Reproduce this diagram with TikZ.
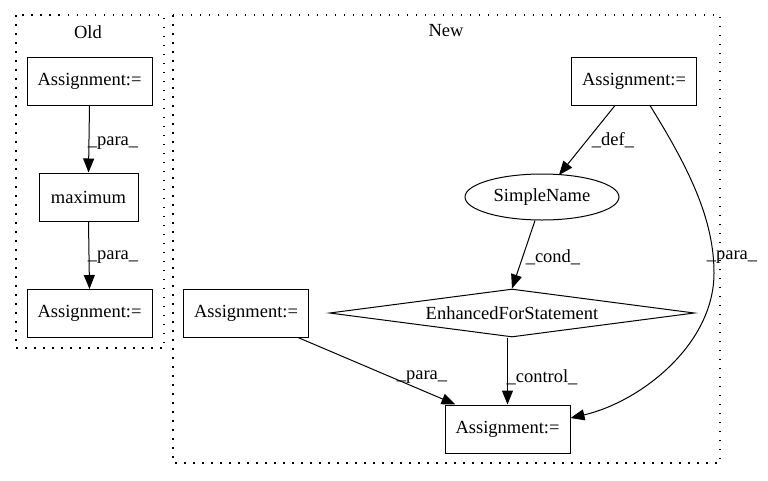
\documentclass[tikz,border=0pt]{standalone}
\usepackage{fontspec}
\setmainfont{Liberation Serif}
\usetikzlibrary{shapes.geometric,arrows.meta,calc}
\begin{document}
\begin{tikzpicture}[x=1pt,y=-1pt,
  every node/.style={font=\fontsize{18.5}{20}\selectfont},
  box/.style={draw,line width=1pt,minimum width=125pt,minimum height=48pt,inner sep=0pt},
  oval/.style={draw,ellipse,line width=1pt,minimum width=154pt,minimum height=46pt,inner sep=0pt},
  dia/.style={draw,diamond,line width=1pt,minimum width=365pt,minimum height=48pt,inner sep=0pt,aspect=7},
  cluster/.style={draw,line width=1.3pt,dash pattern=on 1.5pt off 7.5pt},
  edge/.style={line width=1pt,-{Triangle[length=14pt,width=11pt]}},
  lab/.style={inner sep=0pt}]
\useasboundingbox (0,0) rectangle (768,480);
% clusters
\draw[cluster] (16,15) rectangle (164,348);
\draw[cluster] (173,15) rectangle (720,463);
\node (oldlab) at (88,32) {Old};
\node (newlab) at (446,31) {New};
% old nodes
\node[box] (ot) at (89.5,81) {Assignment:=};
\node[box,minimum width=99pt] (om) at (88.5,197) {maximum};
\node[box] (ob) at (89.5,313.5) {Assignment:=};
% new nodes
\node[box] (nt) at (634,81) {Assignment:=};
\node[oval] (sn) at (542,197) {SimpleName};
\node[dia] (fe) at (512,313) {EnhancedForStatement};
\node[box] (nl) at (246,313) {Assignment:=};
\node[box] (nb) at (507.5,429) {Assignment:=};
% old edges
\draw[edge] (ot.south) -- (om.north);
\draw[edge] (om.south) -- (ob.north);
\node[lab] (l1) at (113,143) {\_para\_};
\node[lab] (l2) at (113,257) {\_para\_};
% new edges
\draw[edge] ($(nt.south)+(-19,0)$) -- ($(sn.north)+(17,1.5)$);
\node[lab] (l3) at (613,140) {\_def\_};
\draw[edge] ($(sn.south)+(-7,0)$) -- (fe.north);
\node[lab] (l4) at (553,257) {\_cond\_};
\draw[edge] (nb.north |- fe.south) -- (nb.north);
\node[lab] (l5) at (542,377) {\_control\_};
\draw[edge] ($(nl.south)+(52,0)$) -- ($(nb.north)+(-52,0)$);
\node[lab] (l6) at (422,377) {\_para\_};
\draw[edge] ($(nt.south)+(16,0)$) .. controls (690,170) and (714,220) .. (714,273)
   .. controls (714,345) and (640,402) .. ($(nb.east)+(0,-11)$);
\node[lab] (l7) at (732,257) {\_para\_};
\end{tikzpicture}
\end{document}
